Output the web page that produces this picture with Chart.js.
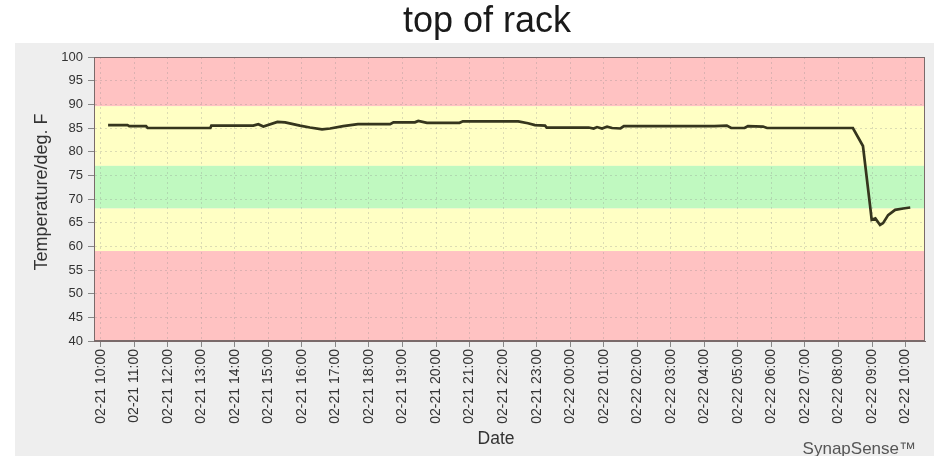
<!DOCTYPE html>
<html>
<head>
<meta charset="utf-8">
<script src="https://cdn.jsdelivr.net/npm/chart.js@4.4.1/dist/chart.umd.min.js"></script>
<style>
  html, body { margin: 0; padding: 0; background: #fff; }
  #wrap { width: 934px; height: 456px; }
</style>
</head>
<body>
<div id="wrap"><canvas id="chart" width="934" height="456"></canvas></div>
<script>
// hours after 02-21 10:00
const hours = [0.22, 0.8, 0.85, 1.35, 1.4, 3.27, 3.3, 4.55, 4.7, 4.85, 5.27, 5.5, 5.94, 6.24, 6.6, 6.84,
  7.23, 7.67, 8.63, 8.73, 9.37, 9.47, 9.73, 10.7, 10.8, 12.2, 12.45, 12.74, 12.95, 13.25, 13.3,
  14.55, 14.7, 14.8, 14.95, 15.1, 15.25, 15.5, 15.6, 18.3, 18.67, 18.8, 19.2, 19.3, 19.75, 19.87,
  22.43, 22.73, 22.94, 22.99, 23.1, 23.24, 23.33, 23.48, 23.69, 23.93, 24.14];
const temps = [85.6, 85.6, 85.4, 85.4, 85.0, 85.0, 85.5, 85.5, 85.8, 85.3, 86.3, 86.2, 85.5, 85.1, 84.7, 84.9,
  85.4, 85.8, 85.8, 86.2, 86.2, 86.5, 86.1, 86.1, 86.4, 86.4, 86.4, 86.0, 85.6, 85.5, 85.1,
  85.1, 84.9, 85.2, 84.9, 85.3, 85.0, 84.9, 85.4, 85.4, 85.5, 85.0, 85.0, 85.4, 85.3, 85.0,
  85.0, 81.2, 68.7, 65.6, 65.9, 64.5, 64.9, 66.6, 67.7, 68.0, 68.2];

const tickHours = [0, 1, 2, 3, 4, 5, 6, 7, 8, 9, 10, 11, 12, 13, 14, 15, 16, 17, 18, 19, 20, 21, 22, 23, 24];
const tickLabels = ["02-21 10:00", "02-21 11:00", "02-21 12:00", "02-21 13:00", "02-21 14:00", "02-21 15:00",
  "02-21 16:00", "02-21 17:00", "02-21 18:00", "02-21 19:00", "02-21 20:00", "02-21 21:00", "02-21 22:00",
  "02-21 23:00", "02-22 00:00", "02-22 01:00", "02-22 02:00", "02-22 03:00", "02-22 04:00", "02-22 05:00",
  "02-22 06:00", "02-22 07:00", "02-22 08:00", "02-22 09:00", "02-22 10:00"];

// threshold bands (deg F)
const bandLow = [89.6, 77, 68, 59, 40];
const bandHigh = [100, 89.6, 77, 68, 59];
const bandColor = ["#ffc2c2", "#ffffc4", "#c0f9c0", "#ffffc4", "#ffc2c2"];

const FONT = "'Liberation Sans', Arial, sans-serif";

const decor = {
  id: "decor",
  beforeDraw(c) {
    const { ctx, chartArea: a, scales: { y } } = c;
    ctx.save();
    ctx.fillStyle = "#fff";
    ctx.fillRect(0, 0, c.width, c.height);
    ctx.fillStyle = "#eeeeee";
    ctx.fillRect(15, 43, c.width - 15, c.height - 43);
    for (let i = 0; i < bandLow.length; i++) {
      const top = y.getPixelForValue(bandHigh[i]);
      const bot = y.getPixelForValue(bandLow[i]);
      ctx.fillStyle = bandColor[i];
      ctx.fillRect(a.left, top, a.right - a.left, bot - top);
    }
    ctx.restore();
  },
  afterDraw(c) {
    const { ctx, chartArea: a } = c;
    ctx.save();
    ctx.strokeStyle = "#7a6a6a";
    ctx.lineWidth = 1;
    ctx.strokeRect(a.left + 0.5, a.top + 0.5, a.right - a.left - 1, a.bottom - a.top - 1);

    ctx.fillStyle = "#1a1a1a";
    ctx.font = "36px " + FONT;
    ctx.textAlign = "center";
    ctx.textBaseline = "middle";
    ctx.fillText("top of rack", 487, 22);

    ctx.fillStyle = "#333";
    ctx.font = "17.5px " + FONT;
    ctx.fillText("Date", 496, 439);
    ctx.save();
    ctx.translate(42, 192);
    ctx.rotate(-Math.PI / 2);
    ctx.font = "18px " + FONT;
    ctx.fillText("Temperature/deg. F", 0, 0);
    ctx.restore();

    ctx.fillStyle = "#555";
    ctx.font = "17px " + FONT;
    ctx.textAlign = "right";
    ctx.textBaseline = "alphabetic";
    ctx.fillText("SynapSense\u2122", 916, 454);
    ctx.restore();
  }
};

new Chart(document.getElementById("chart"), {
  type: "line",
  data: {
    datasets: [{
      data: hours.map((h, i) => ({ x: h, y: temps[i] })),
      borderColor: "#35351d",
      borderWidth: 2.7,
      pointRadius: 0,
      tension: 0,
      fill: false
    }]
  },
  options: {
    responsive: false,
    animation: false,
    layout: { padding: { top: 57, right: 9, left: 0, bottom: 0 } },
    plugins: { legend: { display: false }, tooltip: { enabled: false } },
    scales: {
      x: {
        type: "linear",
        min: -0.2,
        max: 24.58,
        afterFit: s => { s.height = 115; },
        afterBuildTicks: s => { s.ticks = tickHours.map(v => ({ value: v })); },
        ticks: {
          autoSkip: false,
          minRotation: 90,
          maxRotation: 90,
          padding: 2,
          color: "#333",
          font: { family: FONT, size: 14 },
          callback: (v) => tickLabels[tickHours.indexOf(v)]
        },
        grid: { color: "rgba(140,140,140,0.3)", tickColor: "#888", tickLength: 6 },
        border: { display: true, color: "#7a6a6a", dash: [2, 3] }
      },
      y: {
        min: 40,
        max: 100,
        afterFit: s => { s.width = 94; },
        ticks: { stepSize: 5, padding: 5, color: "#333", font: { family: FONT, size: 13 } },
        grid: { color: "rgba(140,140,140,0.3)", tickColor: "#888", tickLength: 6 },
        border: { display: true, color: "#7a6a6a", dash: [2, 3] }
      }
    }
  },
  plugins: [decor]
});
</script>
</body>
</html>
